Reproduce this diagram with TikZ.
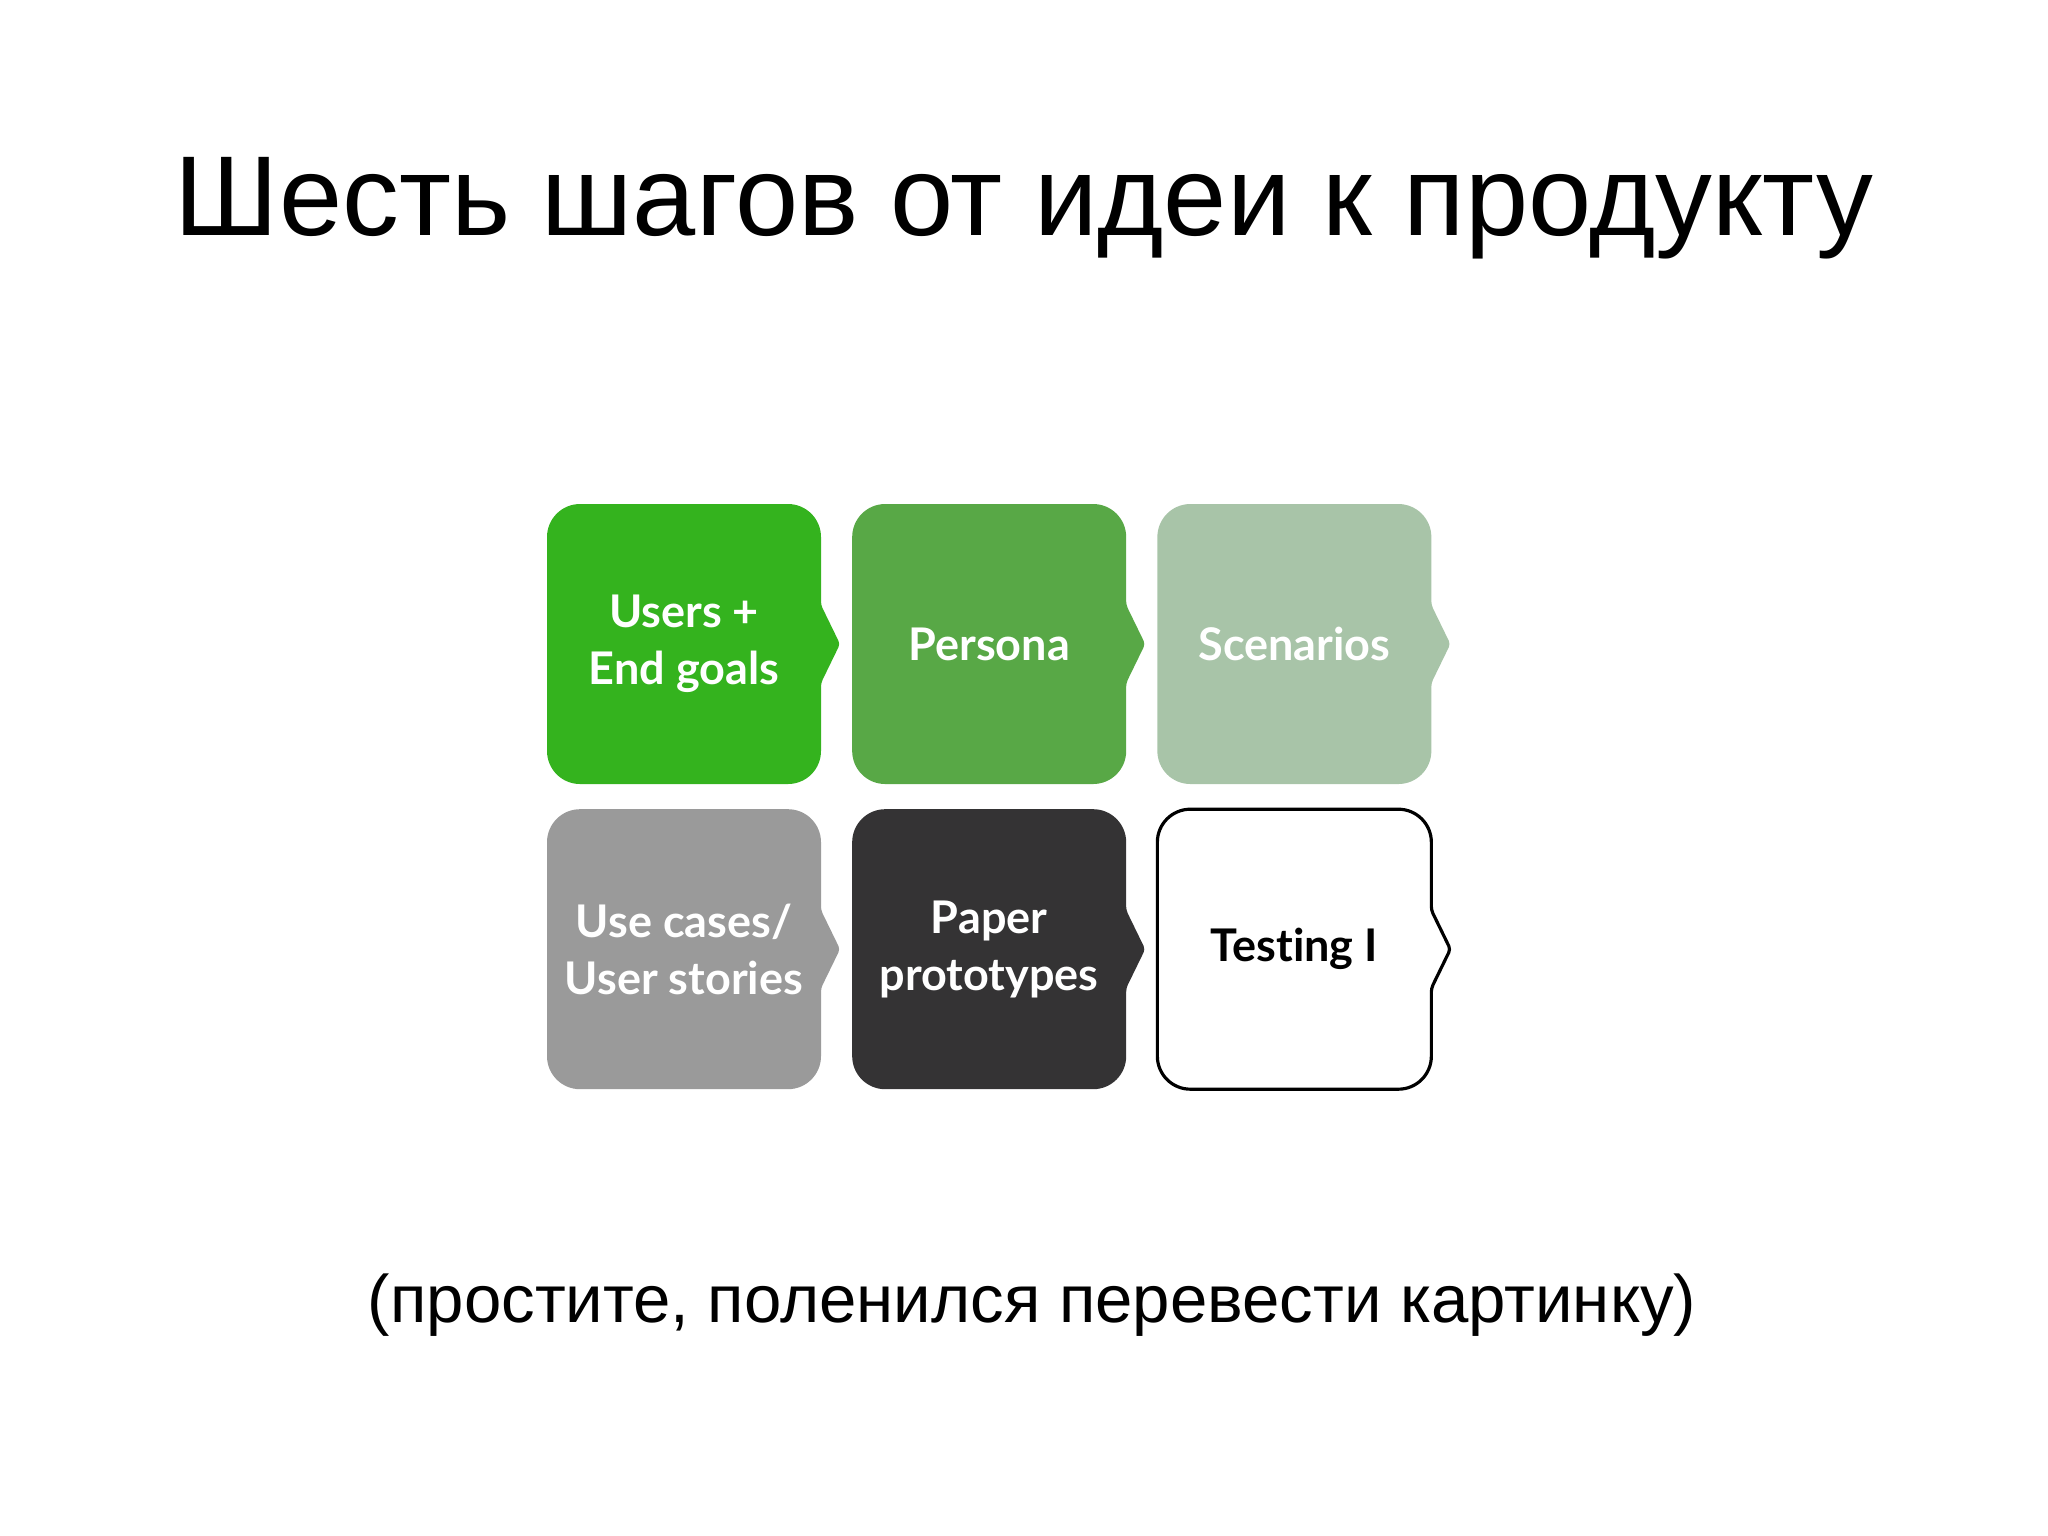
\documentclass[tikz,border=0pt]{standalone}
\usepackage{fontspec}
\setmainfont{Liberation Sans}
\newfontfamily\boxfont[Ligatures=NoCommon]{Lato}
\usetikzlibrary{backgrounds}

\definecolor{usersgreen}{RGB}{52,179,30}
\definecolor{personagreen}{RGB}{88,168,70}
\definecolor{scenariogreen}{RGB}{168,196,168}
\definecolor{casesgrey}{RGB}{154,154,154}
\definecolor{paperdark}{RGB}{52,51,52}

\tikzset{
  stepnode/.style={font=\boxfont\bfseries\fontsize{12.8}{16.3}\selectfont, text=white, align=center},
  chevron/.style={line width=0.9pt}
}

% rounded box with a notch pointing right, around a node
\newcommand{\chevronbox}[3]{%
  \begin{scope}[shift={(#1.center)}]
    \path[chevron, fill=#2, draw=#3] (0,-140) [rounded corners=3.3mm] -- (137,-140)
      [rounded corners=1pt] -- (137,-39) -- (156,0) -- (137,39)
      [rounded corners=3.3mm] -- (137,140) -- (-137,140) -- (-137,-140) -- cycle;
  \end{scope}}

\begin{document}
\begin{tikzpicture}[x=0.01cm, y=-0.01cm, node distance=3.05cm]
    \useasboundingbox (0,0) rectangle (2048,1535);
    \node[anchor=base, font=\fontsize{32.3}{38}\selectfont] (title) at (1024,235) {Шесть шагов от идеи к продукту};
    \node[stepnode] (users) at (684,644) {Users +\\End goals};
    \node[stepnode, right of=users] (persona) {Persona};
    \node[stepnode, right of=persona] (scenarios) {Scenarios};
    \node[stepnode, below of=users] (cases) {Use cases/\\User stories};
    \node[stepnode, right of=cases] (paper) {Paper\\prototypes};
    \node[stepnode, right of=paper, text=black] (testing) {Testing I};
    \node[anchor=base, font=\fontsize{19.1}{23}\selectfont] (note) at (1032,1322) {(простите, поленился перевести картинку)};
    \begin{scope}[on background layer]
        \chevronbox{users}{usersgreen}{none}
        \chevronbox{persona}{personagreen}{none}
        \chevronbox{scenarios}{scenariogreen}{none}
        \chevronbox{cases}{casesgrey}{none}
        \chevronbox{paper}{paperdark}{none}
        \chevronbox{testing}{white}{black}
    \end{scope}
\end{tikzpicture}
\end{document}
